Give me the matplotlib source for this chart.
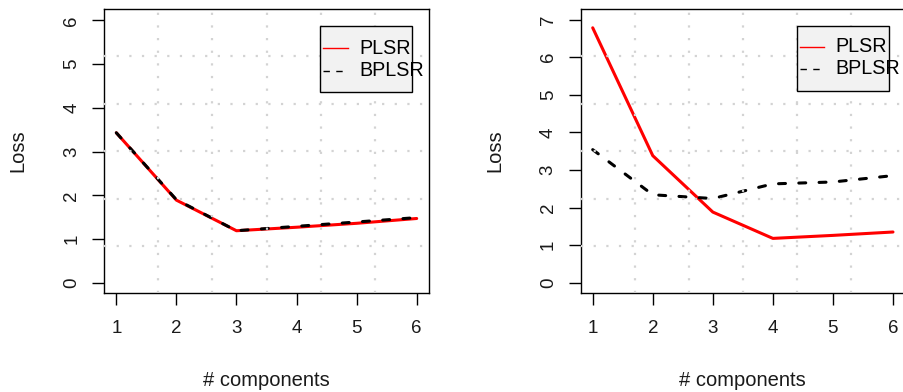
import matplotlib
matplotlib.use("Agg")
import matplotlib.pyplot as plt
from matplotlib.patches import Rectangle
from matplotlib.lines import Line2D

plt.rcParams["font.family"] = ["Liberation Sans", "DejaVu Sans"]
plt.rcParams["lines.scale_dashes"] = False

components = [1, 2, 3, 4, 5, 6]

# loss per number of components, left experiment
left_plsr = [3.43, 1.89, 1.19, 1.27, 1.36, 1.47]
left_bplsr = [3.43, 1.90, 1.19, 1.29, 1.39, 1.49]

# loss per number of components, right experiment
right_plsr = [6.78, 3.38, 1.88, 1.18, 1.26, 1.35]
right_bplsr = [3.54, 2.34, 2.24, 2.63, 2.68, 2.85]

series_names = ["PLSR", "BPLSR"]

W, H = 904, 392
DASH = (0, (5.0, 9.6))
DOT = (0, (1.6, 7.5))


def fx(x):
    return x / W


def fy(y):
    return 1 - y / H


def r_limits(lo, hi):
    # R style axis range: data range padded by 4 % on each side
    pad = (hi - lo) * 0.04
    return lo - pad, hi + pad


def draw_panel(ax, plsr, bplsr, ymax):
    ax.plot(components, plsr, color="red", lw=2.2, solid_capstyle="round", zorder=2)
    ax.plot(components, bplsr, color="black", lw=2.2, linestyle=DASH,
            dash_capstyle="round", zorder=2.1)

    x0, x1 = r_limits(1, 6)
    y0, y1 = r_limits(0, ymax)
    ax.set_xlim(x0, x1)
    ax.set_ylim(y0, y1)

    # dotted grid splitting each axis range into six cells
    for k in range(1, 6):
        gx = x0 + k * (x1 - x0) / 6
        gy = y0 + k * (y1 - y0) / 6
        ax.axvline(gx, color="#d3d3d3", lw=1.6, linestyle=DOT, zorder=3)
        ax.axhline(gy, color="#d3d3d3", lw=1.6, linestyle=DOT, zorder=3)

    ax.set_xticks(components)
    ax.set_yticks(range(0, int(ymax) + 1))
    ax.tick_params(axis="both", direction="out", length=8.7, width=1.0,
                   color="black", labelsize=13.5, labelcolor="#1a1a1a")
    ax.tick_params(axis="x", pad=10.5)
    ax.tick_params(axis="y", pad=8.5)
    for lab in ax.get_yticklabels():
        lab.set_rotation(90)
        lab.set_va("center")

    for sp in ax.spines.values():
        sp.set_linewidth(1.0)
        sp.set_color("black")


def draw_legend(fig, box, line_x, text_x, rows_y):
    x0, y0, x1, y1 = box
    fig.add_artist(Rectangle((fx(x0), fy(y1)), fx(x1) - fx(x0), fy(y0) - fy(y1),
                             transform=fig.transFigure, facecolor="#f2f2f2",
                             edgecolor="black", lw=1.0, zorder=5))
    styles = [dict(color="red", linestyle="-"),
              dict(color="black", linestyle=(0, (4.6, 4.6)))]
    for name, style, ry in zip(series_names, styles, rows_y):
        fig.add_artist(Line2D([fx(line_x[0]), fx(line_x[1])], [fy(ry), fy(ry)],
                              transform=fig.transFigure, lw=1.0, zorder=6, **style))
        fig.text(fx(text_x), fy(ry), name, fontsize=14.2, ha="left",
                 va="center", color="black", zorder=7)


fig = plt.figure(figsize=(W / 100, H / 100), dpi=100)

ax_left = fig.add_axes([fx(104.3), fy(293.3), fx(428.7) - fx(104.3), fy(9) - fy(293.3)])
ax_right = fig.add_axes([fx(580.7), fy(293.3), fx(905.0) - fx(580.7), fy(9) - fy(293.3)])

draw_panel(ax_left, left_plsr, left_bplsr, 6.02)
draw_panel(ax_right, right_plsr, right_bplsr, 7.0)

for ax, loss_x in [(ax_left, 18), (ax_right, 495.3)]:
    pos = ax.get_position()
    fig.text(fx(loss_x), (pos.y0 + pos.y1) / 2, "Loss", rotation=90,
             fontsize=14.5, ha="center", va="center", color="#1a1a1a")
    fig.text((pos.x0 + pos.x1) / 2, fy(380), "# components",
             fontsize=14.5, ha="center", va="center", color="#1a1a1a")

draw_legend(fig, (320.3, 26, 412.3, 92), (323.3, 347.7), 359, (48.3, 71))
draw_legend(fig, (797, 25.7, 888.7, 90.7), (799.7, 823.7), 835.3, (47, 69))

fig.savefig("out.png", dpi=100)
